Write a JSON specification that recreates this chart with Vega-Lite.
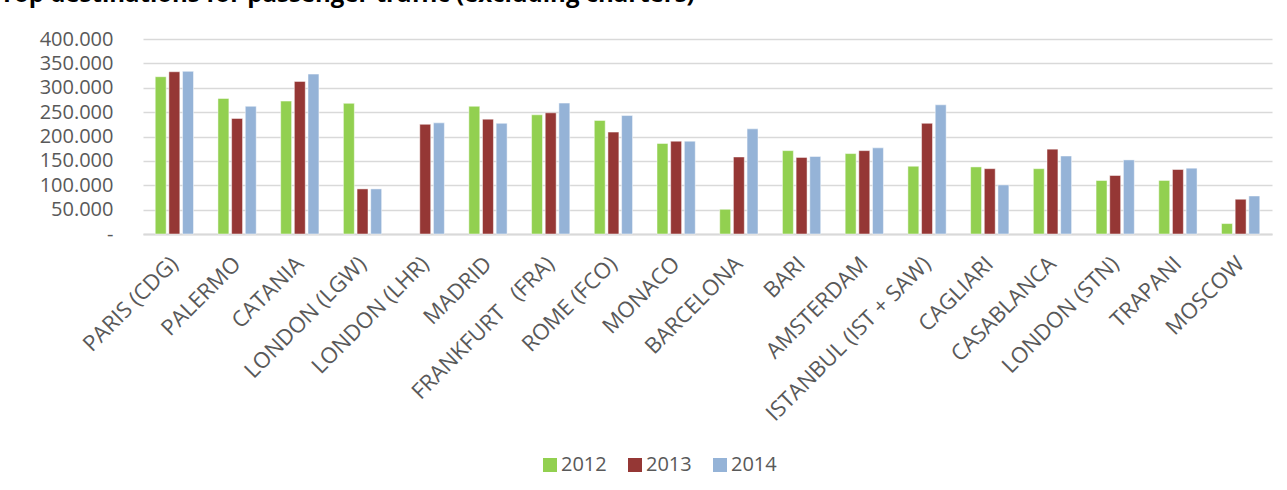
{
  "$schema": "https://vega.github.io/schema/vega-lite/v6.json",
  "autosize": {"type": "none"},
  "width": 1129,
  "height": 195,
  "padding": {"left": 143, "top": 39, "right": 15, "bottom": 256},
  "background": "white",
  "title": {
    "text": "Top destinations for passenger traffic (excluding charters)",
    "anchor": "start",
    "frame": "group",
    "orient": "top",
    "baseline": "alphabetic",
    "offset": 21,
    "dy": 18,
    "dx": -143,
    "font": "Open Sans",
    "fontSize": 24,
    "fontWeight": "bold",
    "color": "#000000"
  },
  "config": {
    "view": {"stroke": null},
    "axis": {"labelFont": "Open Sans", "labelFontSize": 20, "labelColor": "#595959"},
    "legend": {"labelFont": "Open Sans", "labelFontSize": 20, "labelColor": "#595959"}
  },
  "data": {
    "values": [
      {"city": "PARIS (CDG)", "year": "2012", "value": 322600},
      {"city": "PARIS (CDG)", "year": "2013", "value": 332800},
      {"city": "PARIS (CDG)", "year": "2014", "value": 333600},
      {"city": "PALERMO", "year": "2012", "value": 278000},
      {"city": "PALERMO", "year": "2013", "value": 237000},
      {"city": "PALERMO", "year": "2014", "value": 262000},
      {"city": "CATANIA", "year": "2012", "value": 272600},
      {"city": "CATANIA", "year": "2013", "value": 313000},
      {"city": "CATANIA", "year": "2014", "value": 328000},
      {"city": "LONDON (LGW)", "year": "2012", "value": 268000},
      {"city": "LONDON (LGW)", "year": "2013", "value": 92500},
      {"city": "LONDON (LGW)", "year": "2014", "value": 92500},
      {"city": "LONDON (LHR)", "year": "2013", "value": 225000},
      {"city": "LONDON (LHR)", "year": "2014", "value": 228000},
      {"city": "MADRID", "year": "2012", "value": 262000},
      {"city": "MADRID", "year": "2013", "value": 235600},
      {"city": "MADRID", "year": "2014", "value": 227000},
      {"city": "FRANKFURT\u00a0\u00a0\u00a0(FRA)", "year": "2012", "value": 244500},
      {"city": "FRANKFURT\u00a0\u00a0\u00a0(FRA)", "year": "2013", "value": 248600},
      {"city": "FRANKFURT\u00a0\u00a0\u00a0(FRA)", "year": "2014", "value": 268500},
      {"city": "ROME (FCO)", "year": "2012", "value": 233000},
      {"city": "ROME (FCO)", "year": "2013", "value": 209000},
      {"city": "ROME (FCO)", "year": "2014", "value": 243000},
      {"city": "MONACO", "year": "2012", "value": 185700},
      {"city": "MONACO", "year": "2013", "value": 190400},
      {"city": "MONACO", "year": "2014", "value": 190400},
      {"city": "BARCELONA", "year": "2012", "value": 50700},
      {"city": "BARCELONA", "year": "2013", "value": 158000},
      {"city": "BARCELONA", "year": "2014", "value": 215700},
      {"city": "BARI", "year": "2012", "value": 171000},
      {"city": "BARI", "year": "2013", "value": 157000},
      {"city": "BARI", "year": "2014", "value": 159000},
      {"city": "AMSTERDAM", "year": "2012", "value": 165000},
      {"city": "AMSTERDAM", "year": "2013", "value": 171000},
      {"city": "AMSTERDAM", "year": "2014", "value": 176700},
      {"city": "ISTANBUL (IST + SAW)", "year": "2012", "value": 139000},
      {"city": "ISTANBUL (IST + SAW)", "year": "2013", "value": 227000},
      {"city": "ISTANBUL (IST + SAW)", "year": "2014", "value": 265000},
      {"city": "CAGLIARI", "year": "2012", "value": 137600},
      {"city": "CAGLIARI", "year": "2013", "value": 134000},
      {"city": "CAGLIARI", "year": "2014", "value": 100700},
      {"city": "CASABLANCA", "year": "2012", "value": 134000},
      {"city": "CASABLANCA", "year": "2013", "value": 174000},
      {"city": "CASABLANCA", "year": "2014", "value": 160000},
      {"city": "LONDON (STN)", "year": "2012", "value": 109700},
      {"city": "LONDON (STN)", "year": "2013", "value": 120000},
      {"city": "LONDON (STN)", "year": "2014", "value": 152000},
      {"city": "TRAPANI", "year": "2012", "value": 110000},
      {"city": "TRAPANI", "year": "2013", "value": 132300},
      {"city": "TRAPANI", "year": "2014", "value": 135000},
      {"city": "MOSCOW", "year": "2012", "value": 21400},
      {"city": "MOSCOW", "year": "2013", "value": 71300},
      {"city": "MOSCOW", "year": "2014", "value": 78000}
    ]
  },
  "mark": {"type": "bar", "stroke": "white", "strokeWidth": 0.8, "strokeOpacity": 0.6},
  "encoding": {
    "x": {
      "field": "city",
      "type": "nominal",
      "sort": null,
      "scale": {"paddingInner": 0.39, "paddingOuter": 0.195},
      "axis": {
        "title": null,
        "labelAngle": -45,
        "labelAlign": "right",
        "labelBaseline": "middle",
        "labelFontSize": 22,
        "labelLimit": 0,
        "ticks": false,
        "domainColor": "#D9D9D9",
        "domainWidth": 2,
        "labelPadding": 26
      }
    },
    "xOffset": {
      "field": "year",
      "type": "nominal",
      "scale": {"paddingInner": 0.2}
    },
    "y": {
      "field": "value",
      "type": "quantitative",
      "scale": {"domain": [0, 400000]},
      "axis": {
        "title": null,
        "domain": false,
        "ticks": false,
        "labelPadding": 30,
        "gridColor": "#D9D9D9",
        "gridWidth": 1.5,
        "values": [0, 50000, 100000, 150000, 200000, 250000, 300000, 350000, 400000],
        "labelExpr": "datum.value == 0 ? '-\u00a0\u00a0' : replace(format(datum.value, ','), ',', '.')"
      }
    },
    "color": {
      "field": "year",
      "type": "nominal",
      "scale": {"domain": ["2012", "2013", "2014"], "range": ["#92D050", "#953735", "#95B3D7"]},
      "legend": {
        "title": null,
        "orient": "none",
        "legendX": 397,
        "legendY": 416,
        "direction": "horizontal",
        "symbolType": "square",
        "symbolSize": 196,
        "symbolStrokeWidth": 0,
        "columnPadding": 18,
        "labelOffset": 1,
        "padding": 0
      }
    }
  }
}
